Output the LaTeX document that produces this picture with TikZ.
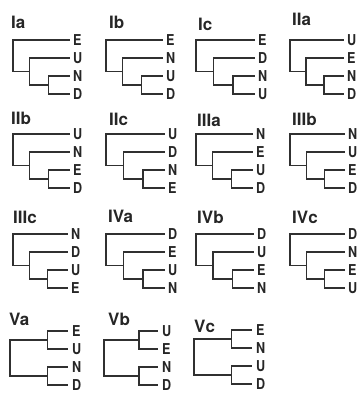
\documentclass[tikz,border=0pt]{standalone}
\usepackage{fontspec}
\setmainfont{TeX Gyre Heros}
\newfontfamily\labfont[FakeStretch=0.84]{TeX Gyre Heros}
\definecolor{ink}{HTML}{303030}
\definecolor{txt}{HTML}{262626}
\tikzset{
  lab/.style={anchor=west,inner sep=0pt,text=txt,font=\labfont\fontsize{15}{16}\selectfont\bfseries},
  ttl/.style={anchor=base west,inner sep=0pt,text=txt,font=\fontsize{17}{18}\selectfont\bfseries},
  br/.style={draw=ink,line width=1.25pt,line cap=rect}
}
% pectinate tree: prefix, root x, top leaf y, width, four labels
\newcommand\pect[8]{%
  \coordinate (#1n1) at (#2, #3+15.75);
  \coordinate (#1n2) at (#2+0.30*#4, #3+31.5);
  \coordinate (#1n3) at (#2+0.64*#4, #3+45);
  \coordinate (#1ta) at (#2+#4, #3);
  \coordinate (#1tb) at (#2+#4, #3+18);
  \coordinate (#1tc) at (#2+#4, #3+36);
  \coordinate (#1td) at (#2+#4, #3+54);
  \node[lab] (#1a) at (#2+#4+4, #3) {#5};
  \node[lab] (#1b) at (#2+#4+4, #3+18) {#6};
  \node[lab] (#1c) at (#2+#4+4, #3+36) {#7};
  \node[lab] (#1d) at (#2+#4+4, #3+54) {#8};
  \draw[br] (#1ta) -| (#1n1) |- (#1n2);
  \draw[br] (#1tb) -| (#1n2) |- (#1n3);
  \draw[br] (#1tc) -| (#1n3) |- (#1td);
}
% balanced tree: prefix, root x, top leaf y, width, four labels
\newcommand\bal[8]{%
  \coordinate (#1r) at (#2, #3+27);
  \coordinate (#1u) at (#2+0.66*#4, #3+9);
  \coordinate (#1l) at (#2+0.66*#4, #3+45);
  \coordinate (#1ta) at (#2+#4, #3);
  \coordinate (#1tb) at (#2+#4, #3+18);
  \coordinate (#1tc) at (#2+#4, #3+36);
  \coordinate (#1td) at (#2+#4, #3+54);
  \node[lab] (#1a) at (#2+#4+5, #3) {#5};
  \node[lab] (#1b) at (#2+#4+5, #3+18) {#6};
  \node[lab] (#1c) at (#2+#4+5, #3+36) {#7};
  \node[lab] (#1d) at (#2+#4+5, #3+54) {#8};
  \draw[br] (#1ta) -| (#1u) |- (#1tb);
  \draw[br] (#1tc) -| (#1l) |- (#1td);
  \draw[br] (#1u) -| (#1r) |- (#1l);
}
\begin{document}
\begin{tikzpicture}[x=1pt,y=-1pt]
\useasboundingbox (0,0) rectangle (362,394);
% row 1
\node[ttl] (tIa)  at (11,28) {Ia};
\node[ttl] (tIb)  at (109,28) {Ib};
\node[ttl] (tIc)  at (198,30) {Ic};
\node[ttl] (tIIa) at (292,25) {IIa};
\pect{Ia}{13}{40}{56}{E}{U}{N}{D}
\pect{Ib}{106}{40}{56}{E}{N}{U}{D}
\pect{Ic}{196}{40}{58}{E}{D}{N}{U}
\pect{IIa}{290}{40}{53}{U}{E}{N}{D}
% row 2
\node[ttl] (tIIb)  at (11,124) {IIb};
\node[ttl] (tIIc)  at (109,125) {IIc};
\node[ttl] (tIIIa) at (197,126) {IIIa};
\node[ttl] (tIIIb) at (292,125) {IIIb};
\pect{IIb}{13}{134}{56}{U}{N}{E}{D}
\pect{IIc}{106}{134}{58}{U}{D}{N}{E}
\pect{IIIa}{196}{134}{56}{N}{E}{U}{D}
\pect{IIIb}{290}{134}{54}{N}{U}{E}{D}
% row 3
\node[ttl] (tIIIc) at (13,223) {IIIc};
\node[ttl] (tIVa)  at (108,222) {IVa};
\node[ttl] (tIVb)  at (197,223) {IVb};
\node[ttl] (tIVc)  at (292,223) {IVc};
\pect{IIIc}{13}{234}{54}{N}{D}{U}{E}
\pect{IVa}{106}{234}{58}{D}{E}{U}{N}
\pect{IVb}{196}{234}{57}{D}{U}{E}{N}
\pect{IVc}{290}{234}{54}{D}{N}{E}{U}
% row 4
\node[ttl] (tVa) at (9,325) {Va};
\node[ttl] (tVb) at (108,325) {Vb};
\node[ttl] (tVc) at (194,332) {Vc};
\bal{Va}{10}{331}{57}{E}{U}{N}{D}
\bal{Vb}{104}{331}{53}{U}{E}{N}{D}
\bal{Vc}{194}{330}{57}{E}{N}{U}{D}
\end{tikzpicture}
\end{document}
